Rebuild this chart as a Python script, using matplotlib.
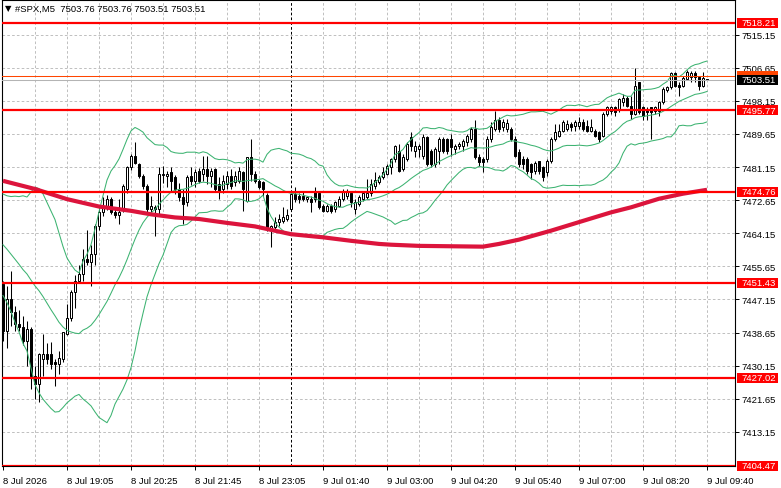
import numpy as np
import pandas as pd
import matplotlib
matplotlib.use('Agg')
import matplotlib.pyplot as plt
from matplotlib.patches import Rectangle

plt.rcParams['font.family'] = ['Liberation Sans', 'DejaVu Sans']

# #SPX M5 bars, 8 Jul 17:45 -> 9 Jul 09:40
opens = [7451.0, 7439.1, 7447.2, 7443.8, 7440.9, 7440.0, 7436.5, 7439.5, 7427.6, 7425.4,
         7431.8, 7433.1, 7433.1, 7431.0, 7430.6, 7431.8, 7438.3, 7442.5, 7449.0, 7452.0,
         7453.7, 7457.5, 7456.8, 7458.8, 7466.1, 7469.5, 7471.0, 7473.0, 7469.5, 7468.8,
         7470.5, 7475.5, 7481.1, 7484.1, 7481.9, 7478.9, 7476.4, 7470.4, 7471.0, 7470.4,
         7479.0, 7478.9, 7479.8, 7478.5, 7475.5, 7473.4, 7472.1, 7478.9, 7477.6, 7480.2,
         7479.4, 7480.6, 7478.9, 7480.6, 7476.8, 7475.5, 7476.8, 7478.9, 7477.2, 7477.6,
         7479.8, 7472.5, 7483.6, 7479.4, 7477.6, 7477.2, 7474.0, 7465.5, 7465.7, 7467.0,
         7467.4, 7467.8, 7470.4, 7474.2, 7473.8, 7473.8, 7472.9, 7472.9, 7475.1, 7474.6,
         7471.2, 7469.9, 7471.2, 7470.4, 7471.2, 7472.9, 7473.8, 7474.6, 7470.4, 7471.6,
         7472.9, 7473.4, 7474.6, 7476.4, 7477.2, 7478.5, 7479.4, 7481.1, 7483.2, 7485.3,
         7480.6, 7483.2, 7488.8, 7485.3, 7485.8, 7484.1, 7488.8, 7485.3, 7481.9, 7485.3,
         7488.3, 7488.3, 7488.3, 7485.8, 7486.6, 7486.6, 7487.5, 7488.3, 7490.9, 7483.6,
         7483.2, 7483.2, 7488.3, 7490.9, 7493.1, 7491.3, 7491.0, 7491.0, 7488.3, 7484.9,
         7483.2, 7483.2, 7481.9, 7480.2, 7482.8, 7481.1, 7479.8, 7482.8, 7488.3, 7489.2,
         7490.5, 7490.9, 7492.2, 7491.8, 7491.8, 7492.6, 7491.8, 7490.5, 7490.5, 7490.1,
         7489.2, 7494.8, 7495.6, 7496.5, 7496.0, 7497.8, 7499.0, 7496.9, 7494.8, 7502.9,
         7496.5, 7496.0, 7496.5, 7495.6, 7495.6, 7497.8, 7500.8, 7501.6, 7505.3, 7502.2,
         7502.0, 7503.8, 7504.2, 7505.3, 7504.2, 7501.9, 7503.76]
highs = [7452.0, 7450.7, 7454.5, 7445.5, 7444.5, 7443.0, 7441.5, 7440.0, 7430.1, 7433.5,
         7438.3, 7436.0, 7436.2, 7431.8, 7434.0, 7438.9, 7446.0, 7449.5, 7453.5, 7456.0,
         7460.0, 7465.0, 7461.0, 7466.5, 7471.0, 7473.5, 7474.0, 7473.5, 7470.5, 7473.0,
         7476.8, 7481.5, 7484.5, 7487.5, 7482.3, 7479.4, 7476.8, 7473.8, 7471.5, 7481.1,
         7481.5, 7480.0, 7481.1, 7479.0, 7477.0, 7475.5, 7479.0, 7481.1, 7480.6, 7480.8,
         7484.1, 7484.1, 7481.0, 7481.0, 7478.5, 7479.0, 7480.2, 7480.6, 7480.2, 7481.1,
         7480.2, 7483.8, 7488.3, 7480.0, 7478.0, 7477.6, 7474.5, 7466.3, 7468.3, 7469.1,
         7470.8, 7470.4, 7474.6, 7475.9, 7474.5, 7475.1, 7473.8, 7473.8, 7475.9, 7475.1,
         7471.6, 7471.6, 7471.6, 7472.5, 7473.8, 7475.5, 7475.5, 7475.1, 7472.9, 7474.0,
         7475.1, 7478.1, 7478.1, 7479.8, 7479.0, 7481.1, 7482.0, 7483.4, 7486.8, 7487.1,
         7484.5, 7487.5, 7490.1, 7487.9, 7487.1, 7489.6, 7489.2, 7485.8, 7486.2, 7488.8,
         7488.8, 7488.6, 7489.6, 7487.1, 7487.5, 7488.3, 7489.6, 7491.3, 7493.1, 7484.5,
         7483.6, 7489.2, 7492.6, 7495.6, 7494.0, 7493.5, 7493.5, 7491.5, 7489.2, 7485.8,
         7484.1, 7483.6, 7482.3, 7482.8, 7482.8, 7481.5, 7483.2, 7488.8, 7492.2, 7492.2,
         7493.1, 7493.1, 7492.6, 7493.1, 7493.9, 7493.5, 7493.1, 7493.5, 7490.9, 7490.5,
         7495.2, 7496.9, 7496.9, 7496.9, 7499.0, 7499.9, 7499.5, 7499.5, 7506.7, 7503.0,
         7496.9, 7496.5, 7496.5, 7496.9, 7498.2, 7501.6, 7502.0, 7505.5, 7505.5, 7502.9,
         7504.6, 7506.1, 7505.7, 7505.9, 7504.6, 7505.5, 7503.76]
lows = [7436.5, 7434.8, 7440.4, 7439.0, 7439.1, 7435.5, 7430.0, 7424.2, 7421.6, 7420.7,
        7427.6, 7430.5, 7429.3, 7425.0, 7428.0, 7431.0, 7438.0, 7441.5, 7445.0, 7451.5,
        7452.0, 7456.0, 7450.5, 7456.0, 7465.0, 7468.5, 7470.0, 7469.0, 7468.0, 7466.5,
        7469.5, 7474.5, 7480.5, 7481.8, 7478.3, 7475.5, 7469.1, 7469.5, 7463.5, 7468.7,
        7477.0, 7476.0, 7475.0, 7474.2, 7472.5, 7466.5, 7471.2, 7476.5, 7476.0, 7477.0,
        7477.6, 7476.8, 7476.0, 7475.0, 7473.0, 7474.5, 7475.5, 7475.5, 7476.4, 7477.0,
        7469.9, 7472.1, 7477.6, 7477.0, 7475.5, 7473.8, 7464.8, 7460.5, 7465.2, 7466.0,
        7466.8, 7467.4, 7470.0, 7472.1, 7472.0, 7472.5, 7472.1, 7469.5, 7472.1, 7470.4,
        7469.5, 7469.5, 7469.3, 7469.5, 7471.0, 7472.5, 7472.9, 7470.8, 7469.1, 7471.2,
        7472.5, 7473.0, 7473.8, 7475.5, 7476.8, 7478.0, 7479.0, 7479.4, 7482.4, 7479.8,
        7480.2, 7482.8, 7485.3, 7483.6, 7483.6, 7483.2, 7481.5, 7481.1, 7481.1, 7481.9,
        7484.8, 7484.5, 7484.1, 7484.5, 7485.8, 7485.3, 7486.6, 7487.5, 7483.2, 7481.5,
        7479.8, 7482.4, 7487.5, 7490.5, 7490.1, 7490.5, 7490.1, 7487.9, 7483.6, 7481.1,
        7480.6, 7479.4, 7478.1, 7479.4, 7479.4, 7477.6, 7478.9, 7482.3, 7487.9, 7488.8,
        7490.1, 7490.5, 7490.5, 7490.5, 7490.9, 7490.5, 7490.1, 7490.1, 7488.8, 7487.5,
        7488.8, 7494.3, 7494.8, 7494.3, 7495.2, 7496.9, 7496.5, 7493.5, 7494.5, 7494.8,
        7493.1, 7493.1, 7488.3, 7494.8, 7494.3, 7497.3, 7500.3, 7501.2, 7501.6, 7499.5,
        7501.6, 7503.4, 7502.9, 7502.9, 7500.8, 7501.6, 7503.51]
closes = [7439.1, 7447.2, 7443.8, 7440.9, 7440.0, 7436.5, 7439.5, 7427.6, 7425.4, 7433.1,
          7433.1, 7431.8, 7430.6, 7430.6, 7432.0, 7438.7, 7442.5, 7449.0, 7452.0, 7453.7,
          7457.5, 7456.8, 7458.8, 7466.1, 7469.5, 7471.0, 7473.0, 7469.5, 7468.8, 7469.5,
          7476.4, 7481.1, 7484.1, 7482.3, 7478.9, 7476.4, 7470.4, 7471.2, 7470.4, 7479.4,
          7479.4, 7479.4, 7477.6, 7475.5, 7473.4, 7471.6, 7478.5, 7477.6, 7479.8, 7477.6,
          7480.6, 7478.9, 7480.2, 7475.5, 7475.1, 7477.6, 7478.9, 7476.4, 7478.9, 7480.2,
          7475.5, 7483.6, 7479.4, 7477.6, 7476.0, 7475.5, 7465.7, 7466.0, 7467.0, 7467.8,
          7468.2, 7468.7, 7474.2, 7472.9, 7472.9, 7472.9, 7473.4, 7472.1, 7472.9, 7470.8,
          7469.9, 7471.2, 7469.9, 7472.1, 7472.9, 7475.1, 7475.1, 7472.1, 7472.1, 7473.4,
          7474.6, 7474.6, 7476.8, 7477.8, 7478.5, 7479.8, 7481.5, 7483.2, 7486.6, 7480.2,
          7483.6, 7487.1, 7486.6, 7486.6, 7486.6, 7488.8, 7481.9, 7481.9, 7485.8, 7488.3,
          7485.3, 7485.3, 7486.2, 7486.6, 7487.1, 7487.9, 7489.2, 7490.9, 7483.6, 7482.4,
          7482.4, 7488.3, 7491.3, 7493.1, 7490.9, 7492.6, 7492.4, 7488.3, 7484.1, 7481.9,
          7481.9, 7480.2, 7479.8, 7482.3, 7480.2, 7478.5, 7482.8, 7488.3, 7490.1, 7490.5,
          7492.6, 7492.2, 7491.3, 7492.6, 7492.6, 7490.9, 7490.5, 7491.3, 7489.2, 7488.3,
          7494.8, 7496.5, 7496.5, 7495.2, 7498.6, 7499.0, 7496.9, 7494.8, 7502.0, 7495.2,
          7494.3, 7495.2, 7495.2, 7496.5, 7497.8, 7501.2, 7501.6, 7505.3, 7502.0, 7501.6,
          7503.9, 7505.5, 7505.3, 7504.2, 7502.0, 7503.9, 7503.51]
# closes of the 19 bars before the window (needed for Bollinger 20)
prev_closes = [7470.0, 7469.0, 7467.0, 7466.0, 7464.0, 7462.0, 7459.0, 7455.0, 7458.0, 7463.0,
               7466.0, 7464.0, 7462.0, 7465.0, 7463.0, 7460.0, 7457.0, 7458.0, 7456.5]

# slow moving average (red), read at some bars
ma_bars = [0, 8, 16, 24, 32, 37, 43, 49, 56, 63, 72, 80, 87, 94, 97, 104, 112, 120,
           124, 129, 137, 144, 152, 157, 164, 170, 176]
ma_vals = [7477.6, 7475.5, 7472.9, 7471.0, 7469.9, 7469.0, 7468.2, 7467.8, 7466.8, 7465.9,
           7463.9, 7463.1, 7462.2, 7461.4, 7461.2, 7460.9, 7460.8, 7460.7, 7461.4, 7462.5,
           7464.8, 7467.0, 7469.5, 7470.8, 7473.0, 7474.3, 7475.3]

levels = [7518.21, 7495.77, 7474.76, 7451.43, 7427.02, 7404.47]
price_ticks = [7413.15, 7421.65, 7430.15, 7438.65, 7447.15, 7455.65, 7464.15,
               7472.65, 7481.15, 7489.65, 7498.15, 7506.65, 7515.15]
time_labels = ['8 Jul 2026', '8 Jul 19:05', '8 Jul 20:25', '8 Jul 21:45', '8 Jul 23:05',
               '9 Jul 01:40', '9 Jul 03:00', '9 Jul 04:20', '9 Jul 05:40', '9 Jul 07:00',
               '9 Jul 08:20', '9 Jul 09:40']
day_sep_bar = 72
bid = 7503.51
ask = 7504.41
header = '#SPX,M5  7503.76 7503.76 7503.51 7503.51'

n = len(closes)
x = np.arange(n)
o = np.array(opens); h = np.array(highs); l = np.array(lows); c = np.array(closes)

s = pd.Series(prev_closes + closes)
mid = s.rolling(20).mean().to_numpy()[-n:]
sd = s.rolling(20).std(ddof=0).to_numpy()[-n:]
upper = mid + 2 * sd
lower = mid - 2 * sd

W, H = 781, 489
fig = plt.figure(figsize=(W / 100, H / 100), dpi=100)
fig.patch.set_facecolor('white')
# plot area: x 2..735 px, y 1..467 px
ax = fig.add_axes([2 / W, 22 / H, 733 / W, 466 / H])
ax.set_xlim(-0.25, 183.0)
ax.set_ylim(7404.37, 7524.04)

dash = (0, (2.6, 2.2))
for p in price_ticks:
    ax.axhline(p, color='#c0c0c0', lw=0.72, ls=dash, zorder=0.5)
for b in range(8, 183, 8):
    ax.axvline(b, color='#c0c0c0', lw=0.72, ls=dash, zorder=0.5)
ax.axvline(day_sep_bar, color='black', lw=0.72, ls=dash, zorder=0.6)

# candles
up = c >= o
ax.vlines(x, l, h, color='black', lw=0.75, zorder=3)
ax.bar(x[up], c[up] - o[up], bottom=o[up], width=0.55, facecolor='white',
       edgecolor='black', lw=0.72, zorder=3.5)
ax.bar(x[~up], o[~up] - c[~up], bottom=c[~up], width=0.55, facecolor='black',
       edgecolor='black', lw=0.72, zorder=3.5)

# indicators
for band in (upper, mid, lower):
    ax.plot(x, band, color='#3cb371', lw=0.75, zorder=4)
ax.plot(ma_bars, ma_vals, color='#dc143c', lw=3.0, zorder=5, solid_capstyle='butt')

for lv in levels:
    ax.axhline(lv, color='#ff0000', lw=1.6, zorder=6)
ax.axhline(bid, color='#b4b4b4', lw=0.75, zorder=5.5)
ax.axhline(ask, color='#ff4500', lw=0.75, zorder=5.5)

# axes look
for sp in ax.spines.values():
    sp.set_color('black')
    sp.set_linewidth(0.8)
ax.yaxis.tick_right()
ax.set_yticks(price_ticks)
ax.set_yticklabels(['%.2f' % p for p in price_ticks])
ax.set_xticks(list(range(0, 177, 16)))
ax.set_xticklabels(time_labels, ha='left')
ax.tick_params(axis='both', length=3, width=0.7, color='black', labelsize=6.8, pad=2)
ax.tick_params(axis='x', pad=4)

# price tags on the right (x 737..778 px)
half = 5 / 3.894
tag_x0, tag_w, txt_x = 183.5, 10.25, 184.6
ax.add_patch(Rectangle((tag_x0, ask - half), tag_w, 2 * half, fc='#ff4500', ec='none',
                       clip_on=False, zorder=10))
for lv in levels:
    ax.add_patch(Rectangle((tag_x0, lv - half), tag_w, 2 * half, fc='#ff0000', ec='none',
                           clip_on=False, zorder=10))
    ax.text(txt_x, lv, '%.2f' % lv, color='white', fontsize=6.8, va='center', ha='left',
            clip_on=False, zorder=11)
ax.add_patch(Rectangle((tag_x0, bid - half), tag_w, 2 * half, fc='black', ec='none',
                       clip_on=False, zorder=12))
ax.text(txt_x, bid, '%.2f' % bid, color='white', fontsize=6.8, va='center', ha='left',
        clip_on=False, zorder=13)

# header
fig.text(4.5 / W, 1 - 9 / H, '\u25bc', fontsize=6, va='center', ha='left', color='black',
         family='DejaVu Sans')
fig.text(15 / W, 1 - 9.5 / H, header, fontsize=6.8, va='center', ha='left', color='black')

fig.savefig('out.png', dpi=100)
